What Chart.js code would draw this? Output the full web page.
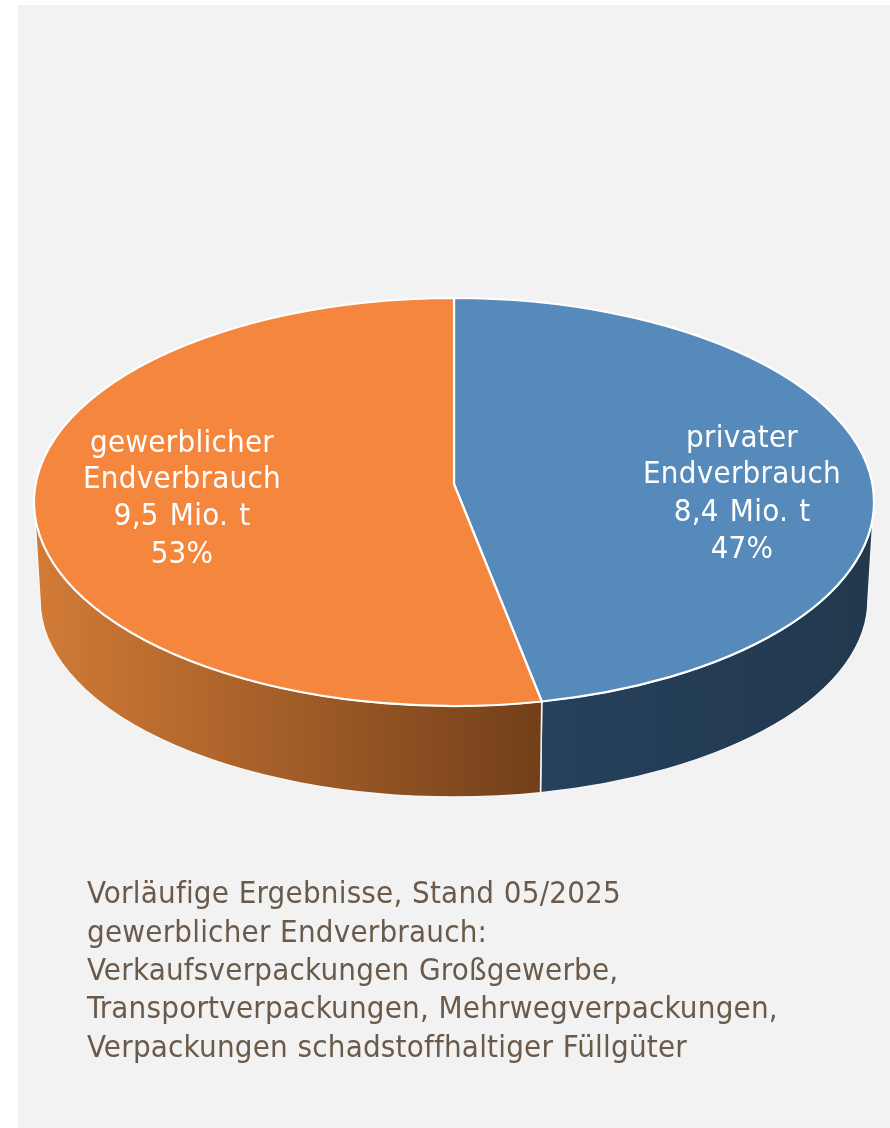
<!DOCTYPE html>
<html lang="de"><head><meta charset="utf-8">
<style>
html,body{margin:0;padding:0;background:#fff}
#wrap{position:relative;width:890px;height:1128px;overflow:hidden}
#panel{position:absolute;left:18px;top:5px;right:0;bottom:0;background:#f2f2f2}
canvas{position:absolute;left:0;top:0}
</style>
<script src="https://cdn.jsdelivr.net/npm/chart.js@4"></script>
</head><body>
<div id="wrap"><div id="panel"></div><canvas id="c" width="890" height="1128"></canvas></div>
<script>
const categories = ['privater Endverbrauch', 'gewerblicher Endverbrauch'];
const valuesMioT = [8.4, 9.5];
const topColors = ['#558abb', '#f4873d'];
const labelLines = [
  ['privater', 'Endverbrauch', '8,4 Mio. t', '47%'],
  ['gewerblicher', 'Endverbrauch', '9,5 Mio. t', '53%']
];
const noteLines = [
  'Vorläufige Ergebnisse, Stand 05/2025',
  'gewerblicher Endverbrauch:',
  'Verkaufsverpackungen Großgewerbe,',
  'Transportverpackungen, Mehrwegverpackungen,',
  'Verpackungen schadstoffhaltiger Füllgüter'
];

const geom = {cx:454, cy:502, rx:420, ry:204, apexY:484, bx:454, by:600, brx:414, bry:197};
const FONT = '"DejaVu Sans"';
// perspective foreshortening of a true pie angle onto the tilted ellipse
function param(a){ return a - 0.091*Math.cos(a); }

const pie3d = {
  id:'pie3d',
  beforeDatasetDraw(chart){
    const ctx = chart.ctx, g = geom, arcs = chart.getDatasetMeta(0).data;
    const wallFill = i => {
      const gr = ctx.createLinearGradient(g.cx-g.rx,0,g.cx+g.rx,0);
      if(i===1){ gr.addColorStop(0,'#d27b36'); gr.addColorStop(0.6,'#73401a'); gr.addColorStop(1,'#73401a'); }
      else { gr.addColorStop(0,'#25415c'); gr.addColorStop(0.6,'#25415c'); gr.addColorStop(1,'#22384d'); }
      return gr;
    };
    // side wall
    arcs.forEach((a,i)=>{
      const s2 = i===0 ? 0 : param(a.startAngle);
      const e2 = i===0 ? param(a.endAngle) : Math.PI;
      ctx.beginPath();
      ctx.ellipse(g.cx,g.cy,g.rx,g.ry,0,s2,e2,false);
      ctx.ellipse(g.bx,g.by,g.brx,g.bry,0,e2,s2,true);
      ctx.closePath();
      ctx.fillStyle=wallFill(i); ctx.fill();
      ctx.strokeStyle='#f6f6f6'; ctx.lineWidth=1.5; ctx.stroke();
    });
    // top face
    arcs.forEach((a)=>{
      ctx.beginPath();
      ctx.moveTo(g.cx,g.apexY);
      ctx.ellipse(g.cx,g.cy,g.rx,g.ry,0,param(a.startAngle),param(a.endAngle),false);
      ctx.closePath();
      ctx.fillStyle=a.options.backgroundColor; ctx.fill();
      ctx.strokeStyle='#fff'; ctx.lineWidth=2.2; ctx.lineJoin='round'; ctx.stroke();
    });
    return false;
  },
  afterDraw(chart){
    const ctx=chart.ctx;
    ctx.save();
    ctx.textBaseline='alphabetic';
    ctx.font='condensed 31px '+FONT; ctx.fontStretch='condensed';
    ctx.letterSpacing='0.25px'; ctx.wordSpacing='2px';
    ctx.fillStyle='#fff'; ctx.textAlign='center';
    const pos=[{x:742,b:[447,483,521,558]},{x:182,b:[452,488,525,563]}];
    labelLines.forEach((lines,i)=>lines.forEach((t,j)=>ctx.fillText(t,pos[i].x,pos[i].b[j])));
    ctx.textAlign='left'; ctx.fillStyle='#6b5a4a';
    ctx.letterSpacing='0.2px'; ctx.wordSpacing='0.5px';
    const nb=[903,942,980,1018,1057];
    noteLines.forEach((t,j)=>ctx.fillText(t,87,nb[j]));
    ctx.restore();
  }
};

new Chart(document.getElementById('c'),{
  type:'pie',
  data:{labels:categories,datasets:[{data:valuesMioT,backgroundColor:topColors,borderColor:'#fff'}]},
  options:{responsive:false,animation:false,events:[],
    plugins:{legend:{display:false},tooltip:{enabled:false}}},
  plugins:[pie3d]
});
</script></body></html>
